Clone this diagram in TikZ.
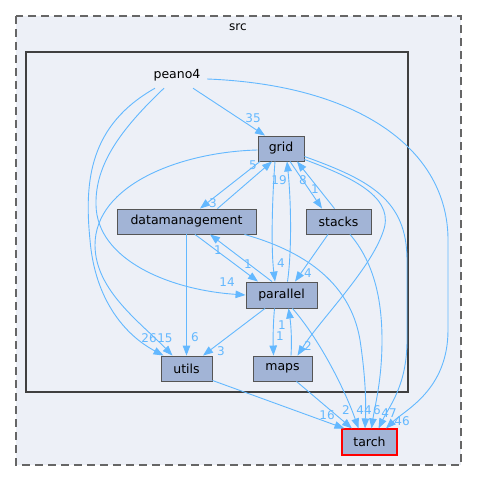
\documentclass[tikz,border=0pt]{standalone}
\usepackage{fontspec}
\setmainfont{DejaVu Sans}
\usetikzlibrary{arrows.meta}
\definecolor{bgc}{HTML}{EDF0F7}
\definecolor{nodefill}{HTML}{A2B4D6}
\definecolor{edgec}{HTML}{63B8FF}
\definecolor{nodeborder}{HTML}{555555}
\definecolor{innerborder}{HTML}{404040}
\definecolor{outerborder}{HTML}{666666}
\definecolor{redborder}{HTML}{FF0000}
\tikzset{
  dirbase/.style={line width=0.9pt, fill=nodefill, inner sep=0pt, minimum height=25pt, font=\fontsize{12.5}{14}\selectfont, text=black},
  dirbox/.style={dirbase, draw=nodeborder},
  redbox/.style={dirbase, draw=redborder, line width=1.1pt},
  edge/.style={draw=edgec, line width=0.9pt, -{Triangle[length=10pt,width=7.5pt]}},
  lbl/.style={text=edgec, inner sep=0pt, font=\fontsize{12}{13}\selectfont}
}
\begin{document}
\begin{tikzpicture}[x=1pt,y=-1pt]
\useasboundingbox (0,0) rectangle (477,481);
% clusters
\draw[draw=outerborder, fill=bgc, line width=1.2pt, dash pattern=on 8pt off 5pt] (16,16) rectangle (461,465);
\node[font=\fontsize{12}{13}\selectfont, inner sep=0pt] (srclbl) at (238,27) {src};
\draw[draw=innerborder, fill=bgc, line width=2.6pt] (26,52) rectangle (408,392);
% nodes
\node[inner sep=0pt, minimum width=60pt, minimum height=26pt, font=\fontsize{12.5}{14}\selectfont] (peano4) at (177,75) {peano4};
\node[dirbox, minimum width=46pt] (grid) at (281,148.5) {grid};
\node[dirbox, minimum width=139pt] (datamanagement) at (186.5,221.5) {datamanagement};
\node[dirbox, minimum width=65pt] (stacks) at (338.5,221.5) {stacks};
\node[dirbox, minimum width=71pt, minimum height=26pt] (parallel) at (281.5,295) {parallel};
\node[dirbox, minimum width=51pt] (utils) at (186.5,368.5) {utils};
\node[dirbox, minimum width=59pt] (maps) at (282.5,368.5) {maps};
\node[redbox, minimum width=55pt, minimum height=26pt] (tarch) at (369.5,442) {tarch};
% edges
\draw[edge] ([xshift=16pt]peano4.south) -- ([xshift=-16pt]grid.north);
\draw[edge] ([yshift=-4pt]peano4.east) .. controls (360,85) and (448,150) .. (448,240) -- (448,330) .. controls (448,390) and (405,410) .. ([xshift=16.5pt]tarch.north);
\draw[edge] ([xshift=-22pt]peano4.south) .. controls (90,125) and (84,180) .. (90,240) .. controls (95,300) and (125,335) .. ([xshift=-23pt]utils.north);
\draw[edge] ([xshift=-13pt]peano4.south) .. controls (120,130) and (95,165) .. (96,205) .. controls (97,260) and (170,290) .. (parallel.west);
\draw[edge] ([yshift=-1.5pt]grid.west) .. controls (180,152) and (95,185) .. (95,245) .. controls (95,290) and (140,322) .. ([xshift=-14pt]utils.north);
\draw[edge] ([xshift=-21pt]grid.south) -- ([xshift=13.5pt]datamanagement.north);
\draw[edge] ([xshift=31pt]datamanagement.north) -- ([xshift=-9pt]grid.south);
\draw[edge] ([xshift=-6pt]grid.south) .. controls (272,200) and (271,250) .. ([xshift=-6.5pt]parallel.north);
\draw[edge] ([xshift=6pt]parallel.north) .. controls (292,250) and (291,200) .. ([xshift=6pt]grid.south);
\draw[edge] ([xshift=9pt]grid.south) -- ([xshift=-16.5pt]stacks.north);
\draw[edge] ([xshift=-4pt]stacks.north) -- ([xshift=16pt]grid.south);
\draw[edge] ([xshift=8.5pt]datamanagement.south) -- ([xshift=-23.5pt]parallel.north);
\draw[edge] ([xshift=-9.5pt]parallel.north) -- ([xshift=23.5pt]datamanagement.south);
\draw[edge] ([xshift=-10.5pt]stacks.south) -- ([xshift=13.5pt]parallel.north);
\draw[edge] (datamanagement.south) -- (utils.north);
\draw[edge] ([xshift=-16.5pt]parallel.south) -- ([xshift=16.5pt]utils.north);
\draw[edge] ([xshift=-7pt]parallel.south) .. controls (273,325) and (273,340) .. ([xshift=-9pt]maps.north);
\draw[edge] ([xshift=8.5pt]maps.north) .. controls (292,340) and (291,325) .. ([xshift=7pt]parallel.south);
\draw[edge] ([yshift=-11pt]grid.east) .. controls (360,180) and (395,200) .. (383,232) .. controls (370,270) and (320,320) .. ([xshift=15pt]maps.north);
\draw[edge] ([yshift=-8pt]grid.east) .. controls (370,180) and (407,200) .. (407,260) -- (407,340) .. controls (407,385) and (390,405) .. ([xshift=9pt]tarch.north);
\draw[edge] ([xshift=58pt]datamanagement.south) .. controls (300,250) and (350,280) .. (360,340) .. controls (366,380) and (366,405) .. ([xshift=-4.5pt]tarch.north);
\draw[edge] ([xshift=11.5pt]stacks.south) .. controls (372,260) and (382,295) .. (382,340) .. controls (382,380) and (375,405) .. ([xshift=2pt]tarch.north);
\draw[edge] ([xshift=11pt]parallel.south) .. controls (320,340) and (345,390) .. ([xshift=-11pt]tarch.north);
\draw[edge] ([yshift=1pt]utils.south east) -- ([xshift=-25pt]tarch.north);
\draw[edge] ([xshift=14pt]maps.south) -- ([xshift=-17.5pt]tarch.north);
% labels
\node[lbl] (l35) at (253,118) {35};
\node[lbl] (l46) at (402,421) {46};
\node[lbl] (l26) at (149,338) {26};
\node[lbl] (l14) at (227,282) {14};
\node[lbl] (l15) at (165,338) {15};
\node[lbl] (l3a) at (213,203) {3};
\node[lbl] (l5) at (253,165) {5};
\node[lbl] (l19) at (279,180) {19};
\node[lbl] (l4a) at (281,263) {4};
\node[lbl] (l1a) at (315,189) {1};
\node[lbl] (l8) at (303,180) {8};
\node[lbl] (l1b) at (248,264) {1};
\node[lbl] (l1c) at (218,250) {1};
\node[lbl] (l4b) at (308,273) {4};
\node[lbl] (l6a) at (195,337) {6};
\node[lbl] (l3b) at (221,351) {3};
\node[lbl] (l1d) at (282,325) {1};
\node[lbl] (l1e) at (280,336) {1};
\node[lbl] (l2a) at (308,346) {2};
\node[lbl] (l16) at (327,415) {16};
\node[lbl] (l2b) at (346,410) {2};
\node[lbl] (l44) at (364,410) {44};
\node[lbl] (l6b) at (377,410) {6};
\node[lbl] (l47) at (389,413) {47};
\end{tikzpicture}
\end{document}
